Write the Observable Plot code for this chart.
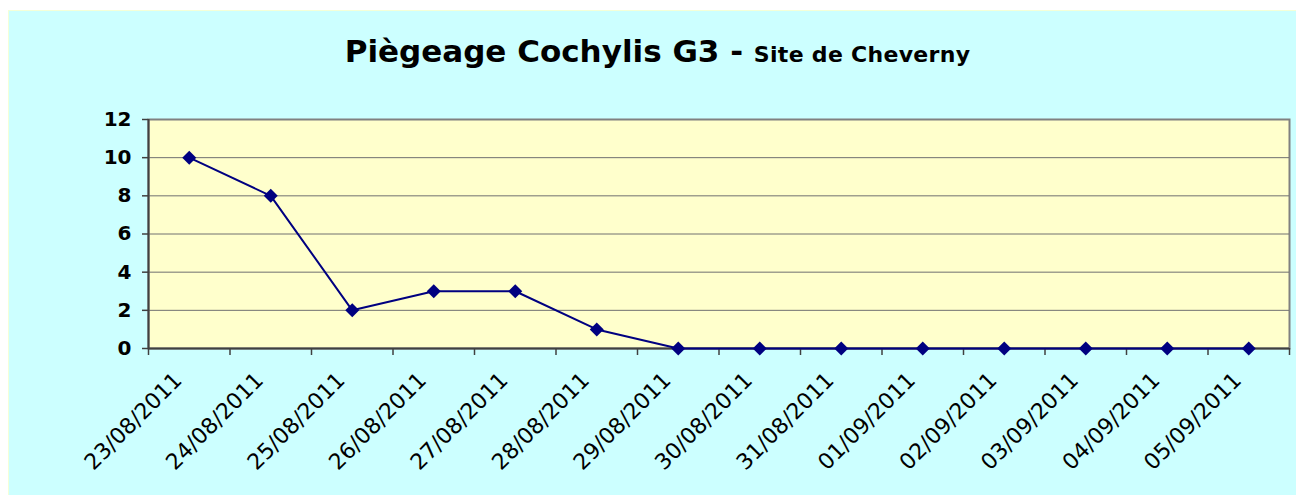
<!DOCTYPE html>
<html>
<head>
<meta charset="utf-8">
<script src="https://cdn.jsdelivr.net/npm/d3@7"></script>
<script src="https://cdn.jsdelivr.net/npm/@observablehq/plot@0.6"></script>
<style>
  html, body { margin: 0; padding: 0; background: #ffffff; }
  #chart {
    position: absolute; left: 8px; top: 10px; width: 1288px; height: 485px;
    background: #ccffff; overflow: hidden;
    box-shadow: inset 1px 1px 0 #f4ffd8;
  }
  #title {
    height: 80px; box-sizing: border-box; padding-top: 26px; padding-left: 11px;
    text-align: center; font-family: "DejaVu Sans", Verdana, sans-serif; font-weight: bold;
    font-size: 31px; line-height: 30px; color: #000;
  }
  #title .sub { font-size: 22px; letter-spacing: 0.3px; }
  #plot svg { display: block; }
</style>
</head>
<body>
<div id="chart">
  <div id="title">Piègeage Cochylis G3 - <span class="sub">Site de Cheverny</span></div>
  <div id="plot"></div>
</div>
<script>
const dates = ["23/08/2011","24/08/2011","25/08/2011","26/08/2011","27/08/2011","28/08/2011","29/08/2011",
               "30/08/2011","31/08/2011","01/09/2011","02/09/2011","03/09/2011","04/09/2011","05/09/2011"];
const captures = [10, 8, 2, 3, 3, 1, 0, 0, 0, 0, 0, 0, 0, 0];
const yTicks = [0, 2, 4, 6, 8, 10, 12];

const data = dates.map((d, i) => ({i, date: d, value: captures[i]}));
const n = dates.length;
const xDomain = [-0.5, n - 0.5];
const boundaries = d3.range(n + 1).map(k => k - 0.5);

const plot = Plot.plot({
  width: 1288,
  height: 405,
  marginLeft: 140,
  marginRight: 7,
  marginTop: 29,
  marginBottom: 147,
  style: {background: "transparent", fontFamily: "DejaVu Sans, Verdana, sans-serif", overflow: "visible"},
  x: {domain: xDomain, axis: null},
  y: {domain: [0, 12], axis: null},
  marks: [
    Plot.frame({fill: "#ffffcc", stroke: "#808080", strokeWidth: 2}),
    Plot.ruleY(yTicks.filter(t => t > 0 && t < 12), {stroke: "#707070", strokeWidth: 1}),
    Plot.axisY({ticks: yTicks, label: null, tickSize: 6, tickPadding: 11, fontSize: 20, fontWeight: "bold",
                stroke: "#404040", strokeWidth: 1.5, fill: "#000", tickFormat: d => String(d)}),
    Plot.axisX({ticks: boundaries, label: null, tickSize: 7, tickFormat: () => "", stroke: "#404040", strokeWidth: 1.5}),
    Plot.ruleX([xDomain[0]], {stroke: "#404040", strokeWidth: 2}),
    Plot.ruleY([0], {stroke: "#404040", strokeWidth: 2}),
    Plot.line(data, {x: "i", y: "value", stroke: "#000080", strokeWidth: 2}),
    Plot.dot(data, {x: "i", y: "value", symbol: "diamond2", r: 6.3, fill: "#000080", stroke: "none"}),
    Plot.text(data, {x: "i", y: () => 0, text: "date", rotate: -45, textAnchor: "end",
                     dx: -11, dy: 28, fontSize: 22, fill: "#000"})
  ]
});
document.getElementById("plot").appendChild(plot);
</script>
</body>
</html>
